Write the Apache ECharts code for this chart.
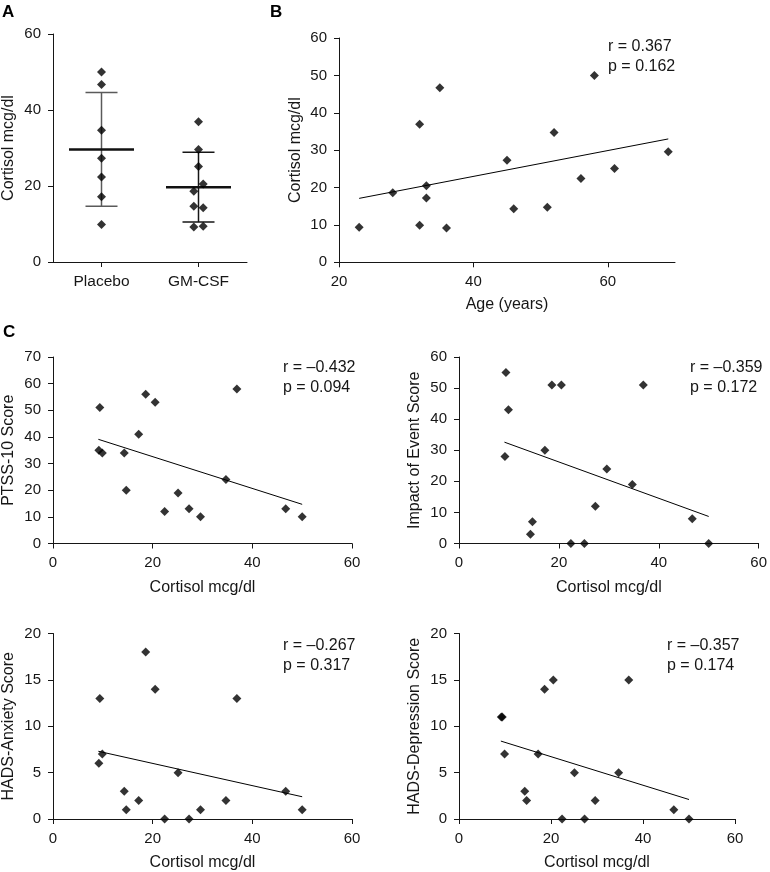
<!DOCTYPE html>
<html><head><meta charset="utf-8">
<script src="https://cdn.jsdelivr.net/npm/echarts@6/dist/echarts.min.js"></script>
<style>html,body{margin:0;padding:0;background:#fff}#c{width:770px;height:872px}</style>
</head><body><div id="c"></div>
<script>
// ---------------- DATA ----------------
const groupCategories = ['Placebo', 'GM-CSF'];
const placeboCortisol = [50.0, 46.7, 34.7, 27.3, 22.4, 17.2, 9.9];
const gmcsfCortisol = [36.9, 29.6, 25.1, 20.5, 18.6, 14.7, 14.3, 9.4, 9.2];
const groupMean = [29.6, 19.7];
const groupUpper = [44.6, 28.9];
const groupLower = [14.7, 10.5];

const cortisol   = [9.2, 9.4, 9.9, 14.3, 14.7, 17.2, 18.6, 20.5, 22.4, 25.1, 27.3, 29.6, 34.7, 36.9, 46.7, 50.0];
const ageYears   = [36, 23, 32, 46, 51, 33, 28, 33, 56, 61, 45, 69, 52, 32, 35, 58];
const ptss10     = [35, 51, 34, 34, 20, 41, 56, 53, 12, 19, 13, 10, 24, 58, 13, 10];
const impactEvent= [28, 55, 43, 3, 7, 30, 51, 51, 0, 0, 12, 24, 19, 51, 8, 0];
const hadsAnx    = [6, 13, 7, 3, 1, 2, 18, 14, 0, 5, 0, 1, 2, 13, 3, 1];
const hadsDep    = [11, 11, 7, 3, 2, 7, 14, 15, 0, 5, 0, 2, 5, 15, 1, 0];

const trendAge     = [[23, 17.1], [69, 33.0]];
const trendPtss    = [[9.1, 39.1], [50.0, 14.7]];
const trendImpact  = [[9.1, 32.6], [50.0, 8.7]];
const trendAnx     = [[9.1, 7.3], [50.0, 2.4]];
const trendDep     = [[9.1, 8.4], [50.0, 2.1]];

const statR = ['r = 0.367', 'r = \u20130.432', 'r = \u20130.359', 'r = \u20130.267', 'r = \u20130.357'];
const statP = ['p = 0.162', 'p = 0.094', 'p = 0.172', 'p = 0.317', 'p = 0.174'];

const yNames = ['Cortisol mcg/dl', 'Cortisol mcg/dl', 'PTSS-10 Score', 'Impact of Event Score', 'HADS-Anxiety Score', 'HADS-Depression Score'];
const xNames = ['', 'Age (years)', 'Cortisol mcg/dl', 'Cortisol mcg/dl', 'Cortisol mcg/dl', 'Cortisol mcg/dl'];
const panelLetters = ['A', 'B', 'C'];

// ---------------- STYLE / LAYOUT ----------------
const FONT = 'Liberation Sans, Arial, Helvetica, sans-serif';
const INK = '#161616';
const gmSide = [0, 0, 0, 1, -1, -1, 1, 1, -1];
const whiskerColors = ['#5a5a5a', '#161616'];

const grids = [
  {left: 52, top: 34, width: 195, height: 228},
  {left: 339, top: 38, width: 336, height: 224.3},
  {left: 52, top: 357, width: 300, height: 186.5},
  {left: 459, top: 357, width: 300, height: 186.5},
  {left: 52, top: 633.5, width: 300, height: 186.5},
  {left: 459, top: 633.5, width: 276, height: 186.5}
];

function axisBase(extra) {
  return Object.assign({
    axisLine: {show: true, onZero: false, lineStyle: {color: INK, width: 1}},
    axisTick: {show: true, length: 5, lineStyle: {color: INK, width: 1}},
    axisLabel: {color: INK, fontSize: 15, fontFamily: FONT, margin: 12},
    splitLine: {show: false},
    nameLocation: 'middle',
    nameTextStyle: {color: INK, fontSize: 16, fontFamily: FONT}
  }, extra);
}

const yRanges = [[0, 60, 20], [0, 60, 10], [0, 70, 10], [0, 60, 10], [0, 20, 5], [0, 20, 5]];

const xAxes = [
  axisBase({gridIndex: 0, type: 'category', data: groupCategories, boundaryGap: true,
    axisTick: {show: true, length: 5, alignWithLabel: true, lineStyle: {color: INK}},
    axisLabel: {color: INK, fontSize: 15.5, fontFamily: FONT, margin: 12}}),
  axisBase({gridIndex: 1, type: 'value', min: 20, max: 70, interval: 20, name: xNames[1], nameGap: 34,
    axisTick: {show: true, length: 5, lineStyle: {color: INK}, customValues: [20, 40, 60]},
    axisLabel: {color: INK, fontSize: 15, fontFamily: FONT, margin: 12, customValues: [20, 40, 60]}})
];
for (let i = 2; i < 6; i++) {
  xAxes.push(axisBase({gridIndex: i, type: 'value', min: 0, max: 60, interval: 20, name: xNames[i], nameGap: 36}));
}
const yAxes = yRanges.map((r, i) => axisBase({
  gridIndex: i, type: 'value', min: r[0], max: r[1], interval: r[2],
  name: yNames[i], nameGap: i === 1 ? 35 : 36,
  axisLabel: {color: INK, fontSize: 15, fontFamily: FONT, margin: 12}
}));

const diamond = {type: 'scatter', symbol: 'diamond', symbolSize: 9, itemStyle: {color: '#000'}, z: 5};
const trendLine = {type: 'line', symbol: 'none', lineStyle: {color: '#000', width: 1}, z: 3, silent: true};

const series = [];
// Panel A error bars
series.push({
  type: 'custom', xAxisIndex: 0, yAxisIndex: 0, z: 2,
  data: groupCategories.map((c, i) => [i, groupMean[i], groupUpper[i], groupLower[i]]),
  renderItem: function (params, api) {
    const i = api.value(0);
    const m = api.coord([i, api.value(1)]);
    const hi = api.coord([i, api.value(2)]);
    const lo = api.coord([i, api.value(3)]);
    const col = whiskerColors[params.dataIndex];
    return {type: 'group', children: [
      {type: 'line', shape: {x1: hi[0], y1: hi[1], x2: lo[0], y2: lo[1]}, style: {stroke: col, lineWidth: 1.5}},
      {type: 'line', shape: {x1: hi[0] - 16, y1: hi[1], x2: hi[0] + 16, y2: hi[1]}, style: {stroke: col, lineWidth: 1.5}},
      {type: 'line', shape: {x1: lo[0] - 16, y1: lo[1], x2: lo[0] + 16, y2: lo[1]}, style: {stroke: col, lineWidth: 1.5}},
      {type: 'line', shape: {x1: m[0] - 32.5, y1: m[1], x2: m[0] + 32.5, y2: m[1]}, style: {stroke: '#111', lineWidth: 2.5}}
    ]};
  }
});
series.push(Object.assign({}, diamond, {xAxisIndex: 0, yAxisIndex: 0,
  data: placeboCortisol.map(v => [0, v])}));
series.push(Object.assign({}, diamond, {xAxisIndex: 0, yAxisIndex: 0,
  data: gmcsfCortisol.map((v, i) => ({value: [1, v], symbolOffset: [gmSide[i] * 4.7, 0]}))}));

// Panel B
series.push(Object.assign({}, diamond, {xAxisIndex: 1, yAxisIndex: 1,
  data: ageYears.map((a, i) => [a, cortisol[i]])}));
series.push(Object.assign({}, trendLine, {xAxisIndex: 1, yAxisIndex: 1, data: trendAge}));

// Panel C
const cSets = [[ptss10, trendPtss], [impactEvent, trendImpact], [hadsAnx, trendAnx], [hadsDep, trendDep]];
cSets.forEach((s, k) => {
  const gi = k + 2;
  series.push(Object.assign({}, diamond, {xAxisIndex: gi, yAxisIndex: gi,
    data: cortisol.map((c, i) => [c, s[0][i]])}));
  series.push(Object.assign({}, trendLine, {xAxisIndex: gi, yAxisIndex: gi, data: s[1]}));
});

// Text annotations
const statPos = [[608, 37], [283, 357.5], [690, 357.5], [283, 635.5], [667, 635.5]];
const graphic = statPos.map((p, i) => ({
  type: 'text', left: p[0], top: p[1],
  style: {text: statR[i] + '\n' + statP[i], font: '16px ' + FONT, fill: INK, lineHeight: 20}
}));
const letterPos = [[2, 4], [270, 4], [3, 324]];
panelLetters.forEach((l, i) => graphic.push({
  type: 'text', left: letterPos[i][0], top: letterPos[i][1],
  style: {text: l, font: 'bold 17px ' + FONT, fill: '#000'}
}));

const chart = echarts.init(document.getElementById('c'), null, {renderer: 'canvas'});
chart.setOption({
  animation: false,
  backgroundColor: '#fff',
  grid: grids,
  xAxis: xAxes,
  yAxis: yAxes,
  series: series,
  graphic: graphic
});
</script></body></html>
